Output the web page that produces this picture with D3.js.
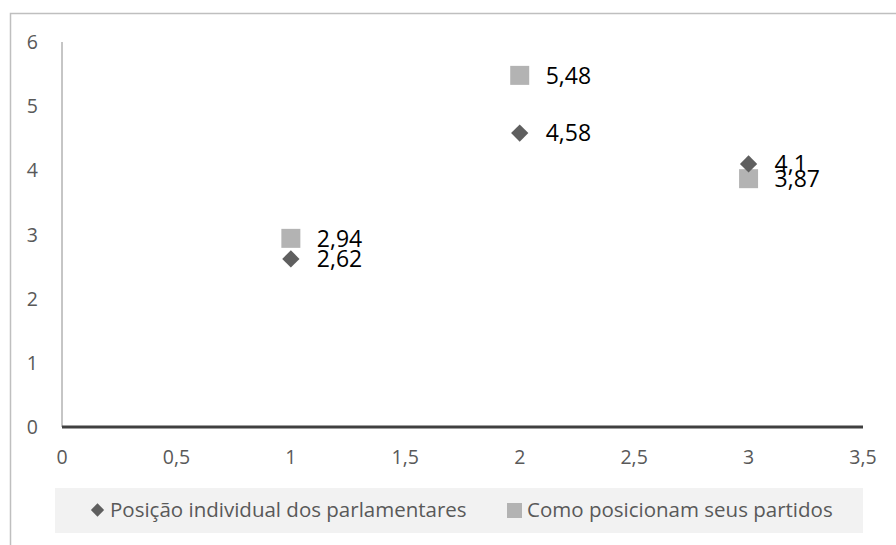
<!DOCTYPE html>
<html lang="pt">
<head>
<meta charset="UTF-8">
<title>Posição dos parlamentares</title>
<script src="https://d3js.org/d3.v7.min.js"></script>
<style>
  body { margin: 0; background: #fff; }
  text { font-family: "Open Sans", "Liberation Sans", sans-serif; }
</style>
</head>
<body>
<svg width="896" height="545"></svg>
<script>
// data
var categories = [1, 2, 3];
var seriesNames = ["Posição individual dos parlamentares", "Como posicionam seus partidos"];
var individual = [2.62, 4.58, 4.1];
var partidos = [2.94, 5.48, 3.87];
var xTicks = [0, 0.5, 1, 1.5, 2, 2.5, 3, 3.5];
var yTicks = [0, 1, 2, 3, 4, 5, 6];

var svg = d3.select("svg");
var fmt = function(v) { return String(v).replace(".", ","); };

// outer chart frame
svg.append("rect")
    .attr("x", 10.5).attr("y", 13.5)
    .attr("width", 900).attr("height", 560)
    .attr("fill", "none")
    .attr("stroke", "#bfbfbf")
    .attr("stroke-width", 1.5);

var x = d3.scaleLinear().domain([0, 3.5]).range([62, 863]);
var y = d3.scaleLinear().domain([0, 6]).range([427, 42]);

// y axis
svg.append("line")
    .attr("x1", x(0)).attr("x2", x(0))
    .attr("y1", y(6)).attr("y2", y(0))
    .attr("stroke", "#8c8c8c").attr("stroke-width", 1);

svg.append("g").selectAll("text")
    .data(yTicks).enter().append("text")
    .attr("x", 38).attr("y", function(d) { return y(d); })
    .attr("dy", "0.36em")
    .attr("text-anchor", "end")
    .attr("font-size", 19.5)
    .attr("fill", "#595959")
    .text(fmt);

// x axis
svg.append("line")
    .attr("x1", x(0)).attr("x2", x(3.5))
    .attr("y1", y(0)).attr("y2", y(0))
    .attr("stroke", "#404040").attr("stroke-width", 3);

svg.append("g").selectAll("text")
    .data(xTicks).enter().append("text")
    .attr("x", function(d) { return x(d); }).attr("y", 457)
    .attr("dy", "0.36em")
    .attr("text-anchor", "middle")
    .attr("font-size", 19.5)
    .attr("fill", "#595959")
    .text(fmt);

// markers
var sq = 19;
var diamond = d3.symbol().type(d3.symbolDiamond2).size(190);

svg.append("g").selectAll("rect")
    .data(partidos).enter().append("rect")
    .attr("x", function(d, i) { return x(categories[i]) - sq / 2; })
    .attr("y", function(d) { return y(d) - sq / 2; })
    .attr("width", sq).attr("height", sq)
    .attr("fill", "#b3b3b3");

svg.append("g").selectAll("path")
    .data(individual).enter().append("path")
    .attr("transform", function(d, i) { return "translate(" + x(categories[i]) + "," + y(d) + ")"; })
    .attr("d", diamond)
    .attr("fill", "#5f5f5f");

// data labels
function labels(vals) {
    svg.append("g").selectAll("text")
        .data(vals).enter().append("text")
        .attr("x", function(d, i) { return x(categories[i]) + 26; })
        .attr("y", function(d) { return y(d); })
        .attr("dy", "0.36em")
        .attr("font-size", 23)
        .attr("fill", "#000")
        .text(fmt);
}
labels(individual);
labels(partidos);

// legend
svg.append("rect")
    .attr("x", 55).attr("y", 488)
    .attr("width", 808).attr("height", 45)
    .attr("fill", "#f2f2f2");

var lg = svg.append("g");
lg.append("path")
    .attr("transform", "translate(97.5,510)")
    .attr("d", d3.symbol().type(d3.symbolDiamond2).size(112))
    .attr("fill", "#5f5f5f");
lg.append("text")
    .attr("x", 110).attr("y", 510).attr("dy", "0.36em")
    .attr("font-size", 20.5).attr("fill", "#595959")
    .text(seriesNames[0]);
lg.append("rect")
    .attr("x", 507).attr("y", 503).attr("width", 15).attr("height", 15)
    .attr("fill", "#b3b3b3");
lg.append("text")
    .attr("x", 527).attr("y", 510).attr("dy", "0.36em")
    .attr("font-size", 20.5).attr("fill", "#595959")
    .text(seriesNames[1]);
</script>
</body>
</html>
